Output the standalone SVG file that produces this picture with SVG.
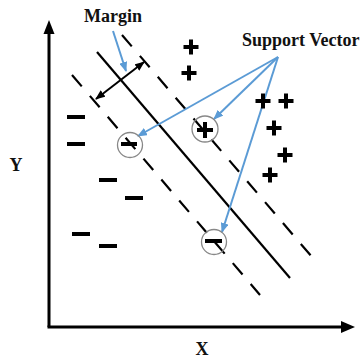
<svg xmlns="http://www.w3.org/2000/svg" width="362" height="363" viewBox="0 0 362 363">
<style>
.lbl{font-family:"Liberation Serif","Times New Roman",serif;font-weight:bold;font-size:18px;fill:#111}
.ax{stroke:#000;stroke-width:3;fill:none}
.sep{stroke:#000;stroke-width:2.2;fill:none}
.dash{stroke:#000;stroke-width:2.2;fill:none;stroke-dasharray:15 12.5}
.blue{stroke:#5b9bd5;stroke-width:2;fill:none}
.sym{stroke:#000;stroke-width:4;fill:none}
.ring{stroke:#888;stroke-width:1.3;fill:none}
</style>
<defs>
<marker id="bh" markerWidth="10" markerHeight="8" refX="9" refY="4" orient="auto-start-reverse" markerUnits="userSpaceOnUse"><path d="M0,0 L10,4 L0,8 z" fill="#000"/></marker>
<marker id="bl" markerWidth="10" markerHeight="8" refX="9" refY="4" orient="auto" markerUnits="userSpaceOnUse"><path d="M0,0 L10,4 L0,8 z" fill="#5b9bd5"/></marker>
</defs>
<g id="axes">
<line class="ax" x1="49" y1="327" x2="49" y2="32"/>
<polygon points="49,20 43.5,34 54.5,34" fill="#000"/>
<line class="ax" x1="47.5" y1="327" x2="343" y2="327"/>
<polygon points="355,327 341,321 341,333" fill="#000"/>
</g>
<g id="lines">
<line class="dash" x1="122" y1="35" x2="312" y2="257"/>
<line class="sep" x1="97" y1="52" x2="290" y2="278"/>
<line class="dash" x1="72" y1="75" x2="260" y2="295"/>
</g>
<g id="connectors">
<line class="sep" style="stroke-width:2" x1="96" y1="99" x2="144" y2="62" marker-start="url(#bh)" marker-end="url(#bh)"/>
<line class="blue" x1="113" y1="31" x2="126" y2="71" marker-end="url(#bl)"/>
<line class="blue" x1="278" y1="57" x2="138" y2="136" marker-end="url(#bl)"/>
<line class="blue" x1="278" y1="57" x2="214" y2="119" marker-end="url(#bl)"/>
<line class="blue" x1="278" y1="57" x2="222" y2="232" marker-end="url(#bl)"/>
</g>
<g id="plus-points" class="sym">
<path d="M183.5,47h15M191,39.5v15"/>
<path d="M181.5,73h15M189,65.5v15"/>
<path d="M255.5,101h15M263,93.5v15"/>
<path d="M278.5,101h15M286,93.5v15"/>
<path d="M266.5,128h15M274,120.5v15"/>
<path d="M277.5,155h15M285,147.5v15"/>
<path d="M262.5,175h15M270,167.5v15"/>
</g>
<g id="minus-points" class="sym">
<path d="M67,117h18"/>
<path d="M67,144h18"/>
<path d="M99,180h18"/>
<path d="M125,198h18"/>
<path d="M72,234h18"/>
<path d="M99,246h18"/>
</g>
<g id="sv-minus-left">
<circle class="ring" cx="130" cy="145" r="12.5"/>
<path class="sym" d="M121,144h16"/>
</g>
<g id="sv-plus">
<circle class="ring" cx="205" cy="129" r="13"/>
<path class="sym" d="M197,130h16M205,122v16"/>
</g>
<g id="sv-minus-low">
<circle class="ring" cx="214" cy="242" r="12.5"/>
<path class="sym" d="M205,241h17"/>
</g>
<g id="label-margin"><text class="lbl" x="84" y="22">Margin</text></g>
<g id="label-sv"><text class="lbl" x="242" y="46">Support Vector</text></g>
<g id="label-y"><text class="lbl" x="16" y="171" text-anchor="middle">Y</text></g>
<g id="label-x"><text class="lbl" x="202" y="355" text-anchor="middle">X</text></g>
</svg>
